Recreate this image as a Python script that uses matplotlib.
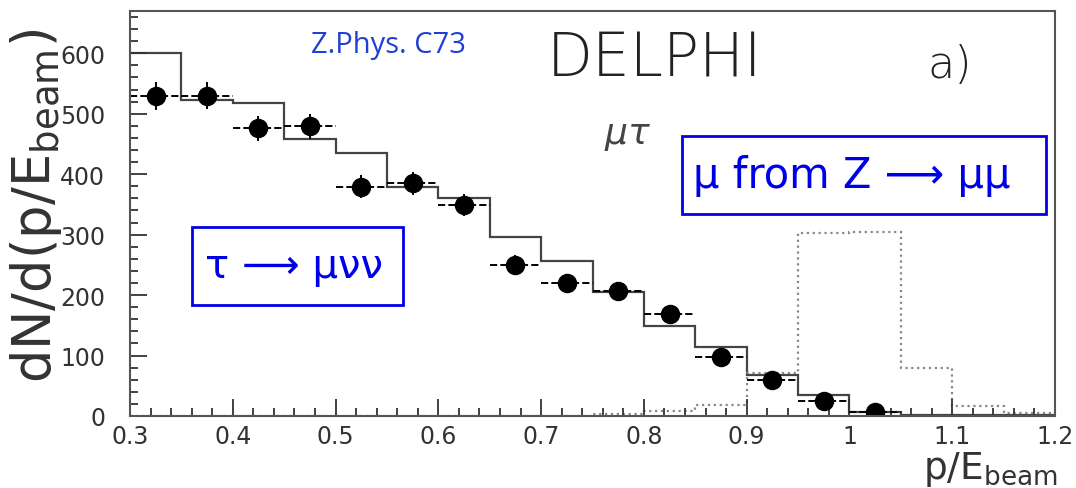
import numpy as np
import matplotlib
matplotlib.use('Agg')
import matplotlib.pyplot as plt
from matplotlib.patches import Rectangle
from matplotlib.ticker import MultipleLocator

# bin edges in p/E_beam
edges = [0.30, 0.35, 0.40, 0.45, 0.50, 0.55, 0.60, 0.65, 0.70, 0.75,
         0.80, 0.85, 0.90, 0.95, 1.00, 1.05, 1.10, 1.15, 1.20]
# simulation tau -> mu nu nu (solid)
mc_tau = [600, 522, 517, 459, 435, 379, 360, 296, 257, 205,
          149, 114, 68, 35, 7, 2, 2, 2]
# simulation mu from Z -> mu mu (dotted)
mc_zmumu = [0, 0, 0, 0, 0, 0, 0, 0, 0, 3,
            8, 18, 71, 302, 305, 80, 16, 5]
# data points
x_data = [0.325, 0.375, 0.425, 0.475, 0.525, 0.575, 0.625, 0.675,
          0.725, 0.775, 0.825, 0.875, 0.925, 0.975, 1.025]
y_data = [530, 530, 476, 479, 379, 385, 349, 250,
          220, 207, 169, 97, 60, 25, 7]
y_err = [23, 22, 21, 21, 19, 19, 18, 16, 15, 14, 13, 10, 8, 5, 3]
x_half = 0.025

blue = '#0000e8'

fig = plt.figure(figsize=(10.76, 4.89), dpi=100)
ax = fig.add_axes([130/1076, 1 - 417/489, 925/1076, 405/489])

ax.stairs(mc_tau, edges, color='#444444', lw=1.6, baseline=None)
ax.stairs(mc_zmumu, edges, color='#888888', lw=1.6, ls=':', baseline=None)

eb = ax.errorbar(x_data, y_data, xerr=x_half, yerr=y_err, fmt='o',
                 color='black', ms=13, elinewidth=1.4, capsize=0)
eb.lines[2][0].set_linestyle('--')

ax.set_xlim(0.3, 1.2)
ax.set_ylim(0, 670)
ax.xaxis.set_minor_locator(MultipleLocator(0.02))
ax.yaxis.set_major_locator(MultipleLocator(100))
ax.yaxis.set_minor_locator(MultipleLocator(20))
ax.set_xticks([0.3, 0.4, 0.5, 0.6, 0.7, 0.8, 0.9, 1.0, 1.1, 1.2])
ax.set_xticklabels(['0.3', '0.4', '0.5', '0.6', '0.7', '0.8', '0.9', '1', '1.1', '1.2'])
ax.tick_params(which='both', direction='in', colors='#333333', labelsize=17,
               width=1.3)
ax.tick_params(which='major', length=12)
ax.tick_params(which='minor', length=6)
ax.tick_params(axis='x', pad=6)
ax.tick_params(axis='y', pad=18)
for s in ax.spines.values():
    s.set_color('#555555')
    s.set_linewidth(1.5)

fig.text(36/1076, 1 - 206/489, r'dN/d(p/E$_{\mathrm{beam}}$)', rotation=90,
         ha='center', va='center', fontsize=38, color='#333333')
fig.text(1058/1076, 0, r'p/E$_{\mathrm{beam}}$', ha='right', va='bottom',
         fontsize=27, color='#333333')

fig.text(655/1076, 1 - 60/489, 'DELPHI', ha='center', va='center',
         fontsize=43, fontweight='light', color='#222222')
fig.text(950/1076, 1 - 66/489, 'a)', ha='center', va='center',
         fontsize=32, fontweight='light', color='#222222')
fig.text(628/1076, 1 - 136/489, r'$\mu\tau$', ha='center', va='center',
         fontsize=26, color='#444444')
fig.text(388/1076, 1 - 46/489, 'Z.Phys. C73', ha='center', va='center',
         fontsize=21, color='#1f3fd6', family='Open Sans')

fig.add_artist(Rectangle((192/1076, 1 - 306/489), 211/1076, 78/489,
                         transform=fig.transFigure, fill=False,
                         ec=blue, lw=2))
fig.text(294/1076, 1 - 267/489, 'τ ⟶ μνν', ha='center', va='center',
         fontsize=29, color=blue)
fig.add_artist(Rectangle((682/1076, 1 - 215/489), 364/1076, 78/489,
                         transform=fig.transFigure, fill=False,
                         ec=blue, lw=2))
fig.text(852/1076, 1 - 176/489, 'μ from Z ⟶ μμ', ha='center', va='center',
         fontsize=30, color=blue)

fig.savefig('out.png', dpi=100)
